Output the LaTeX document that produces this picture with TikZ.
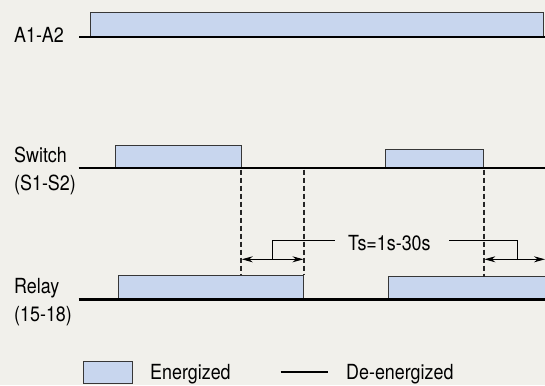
\documentclass[tikz,border=0pt]{standalone}
\usepackage{fontspec}
\setmainfont{TeX Gyre Heros}[FakeStretch=0.86]
\usetikzlibrary{arrows.meta}
\definecolor{bg}{RGB}{241,240,235}
\definecolor{ener}{RGB}{200,214,238}
\definecolor{edgec}{RGB}{55,55,55}
\begin{document}
\begin{tikzpicture}[x=1pt,y=-1pt,
  lbl/.style={anchor=base west,inner sep=0pt,font=\fontsize{20.8}{25}\selectfont},
  ebox/.style={fill=ener,draw=edgec,line width=0.9pt},
  level/.style={line width=2.4pt,black},
  guide/.style={dash pattern=on 5pt off 3pt,line width=1.9pt,black!85},
  dim/.style={line width=0.9pt,{Stealth[length=11pt,width=6pt]}-{Stealth[length=11pt,width=6pt]}},
  lead/.style={line width=0.9pt}]
\fill[bg] (0,0) rectangle (545,385);
\useasboundingbox (0,0) rectangle (545,385);
% labels
\node[lbl] (la) at (14,42.3) {A1-A2};
\node[lbl] (ls1) at (14,162.3) {Switch};
\node[lbl] (ls2) at (14,190.7) {(S1-S2)};
\node[lbl] (lr1) at (14,293.3) {Relay};
\node[lbl] (lr2) at (14,321.7) {(15-18)};
% A1-A2
\draw[ebox] (90,12.9) rectangle (543,37.2);
\draw[level] (79,37.2) -- (545,37.2);
% Switch
\draw[ebox] (115.5,145.3) rectangle (241.2,168);
\draw[ebox] (385.8,149.8) rectangle (483.8,168);
\draw[level] (78.5,168) -- (545,168);
% Relay
\draw[ebox] (118.5,275.2) rectangle (303.6,299.5);
\draw[ebox] (388.5,276.8) rectangle (550,299.5);
\draw[level] (78.5,299.5) -- (545,299.5);
% guides
\coordinate (g1t) at (241,169.5);
\coordinate (g1b) at (241,275.2);
\coordinate (g2t) at (304,169.5);
\coordinate (g2b) at (304,275.2);
\coordinate (g3t) at (484,169.5);
\coordinate (g3b) at (484,276.8);
\draw[guide] (g1t) -- (g1b);
\draw[guide] (g2t) -- (g2b);
\draw[guide] (g3t) -- (g3b);
% dimensions
\coordinate (d1a) at (241.8,259.3);
\coordinate (d1b) at (303.4,259.3);
\coordinate (d2a) at (484.4,259.3);
\coordinate (d2b) at (545,259.3);
\draw[dim] (d1a) -- (d1b);
\draw[dim] (d2a) -- (d2b);
\node[lbl] (ts) at (348,250) {Ts=1s-30s};
\coordinate (l1s) at (272,259.3);
\coordinate (l1e) at (335,240.5);
\coordinate (l2s) at (449.3,240.5);
\coordinate (l2e) at (517.7,259.3);
\draw[lead] (l1s) |- (l1e);
\draw[lead] (l2s) -| (l2e);
% legend
\draw[ebox] (83.3,361.7) rectangle (132.3,383.7);
\node[lbl] (le) at (150,379.3) {Energized};
\coordinate (lla) at (280.7,372);
\coordinate (llb) at (328.3,372);
\draw[level] (lla) -- (llb);
\node[lbl] (ld) at (346,379.3) {De-energized};
\end{tikzpicture}
\end{document}
